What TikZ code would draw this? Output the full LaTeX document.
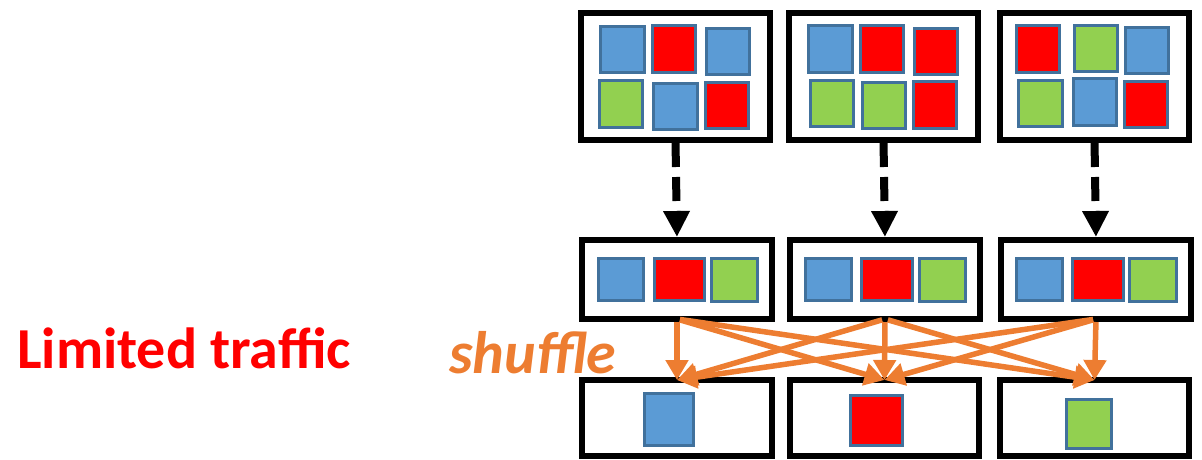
\documentclass[tikz,border=0pt]{standalone}
\usepackage{fontspec}
\setmainfont{Carlito}
\usetikzlibrary{arrows.meta}
\definecolor{tileblue}{HTML}{5B9BD5}
\definecolor{tilered}{HTML}{FF0000}
\definecolor{tilegreen}{HTML}{92D050}
\definecolor{tileedge}{HTML}{41719C}
\definecolor{shuffleorange}{HTML}{ED7D31}
\tikzset{
  box/.style={draw=black, line width=6pt, fill=white, inner sep=0pt, outer sep=0pt},
  tile/.style={draw=tileedge, line width=3pt},
  fetch/.style={line width=8pt, dash pattern=on 24pt off 10pt,
    shorten <=3pt, shorten >=3pt,
    -{Triangle[width=25pt,length=26pt]}},
  shufarrow/.style={draw=shuffleorange, line width=5.5pt, shorten <=3pt,
    -{Triangle[width=22pt,length=20pt]}, color=shuffleorange},
  label/.style={inner sep=0pt, anchor=base west, font=\fontsize{58}{62}\selectfont\bfseries}
}
% one coloured tile: colour, corner, opposite corner
\newcommand{\tileat}[5]{\draw[tile, fill=#1] (#2+1,#3+1) rectangle (#4-1,#5-1);}
\begin{document}
\begin{tikzpicture}[x=1pt, y=-1pt]
\useasboundingbox (0,0) rectangle (1202,459);

% partitions
\node[box, minimum width=189pt, minimum height=127pt] (t1) at (675.5,76.5) {};
\node[box, minimum width=189pt, minimum height=127pt] (t2) at (883.5,76.5) {};
\node[box, minimum width=189pt, minimum height=127pt] (t3) at (1094.5,76.5) {};

% locally combined blocks
\node[box, minimum width=190pt, minimum height=79pt] (m1) at (677,279.5) {};
\node[box, minimum width=190pt, minimum height=79pt] (m2) at (885,279.5) {};
\node[box, minimum width=190pt, minimum height=79pt] (m3) at (1096,279.5) {};

% reducers
\node[box, minimum width=190pt, minimum height=76pt] (b1) at (677,418) {};
\node[box, minimum width=189pt, minimum height=76pt] (b2) at (884.5,418) {};
\node[box, minimum width=189pt, minimum height=76pt] (b3) at (1094.5,418) {};

% tiles of the first partition
\tileat{tileblue}{599}{25}{645}{73}
\tileat{tilered}{651}{24}{696}{73}
\tileat{tileblue}{705}{27}{750}{75}
\tileat{tilegreen}{598}{79}{643}{128}
\tileat{tileblue}{652}{82}{698}{130}
\tileat{tilered}{704}{81}{749}{129}
% second partition
\tileat{tileblue}{807}{24}{853}{73}
\tileat{tilered}{859}{24}{904}{73}
\tileat{tilered}{913}{27}{958}{75}
\tileat{tilegreen}{809}{79}{854}{127}
\tileat{tilegreen}{861}{81}{906}{129}
\tileat{tilered}{912}{80}{957}{129}
% third partition
\tileat{tilered}{1015}{24}{1060}{73}
\tileat{tilegreen}{1073}{24}{1118}{72}
\tileat{tileblue}{1124}{26}{1169}{74}
\tileat{tilegreen}{1017}{79}{1063}{127}
\tileat{tileblue}{1072}{77}{1117}{126}
\tileat{tilered}{1123}{80}{1168}{128}

% combined tiles
\tileat{tileblue}{597}{257}{644}{301}
\tileat{tilered}{653}{257}{705}{301}
\tileat{tilegreen}{710}{257}{758}{302}
\tileat{tileblue}{804}{257}{852}{301}
\tileat{tilered}{860}{257}{913}{301}
\tileat{tilegreen}{918}{257}{966}{302}
\tileat{tileblue}{1015}{257}{1063}{301}
\tileat{tilered}{1071}{257}{1124}{301}
\tileat{tilegreen}{1128}{257}{1177}{302}

% reduced tiles
\tileat{tileblue}{643}{392}{694}{446}
\tileat{tilered}{849}{394}{903}{446}
\tileat{tilegreen}{1065}{398}{1112}{449}

% local combine
\draw[fetch] (t1.south) -- (m1.north);
\draw[fetch] (t2.south) -- (m2.north);
\draw[fetch] (t3.south) -- (m3.north);

% all-to-all shuffle
\foreach \s in {m1,m2,m3}
  \foreach \t in {b1,b2,b3}
    \draw[shufarrow] (\s.south) -- (\t.north);

% captions
\node[label, text=tilered] (traffic) at (17,368) {Limited traffic};
\node[label, text=shuffleorange, font=\fontsize{60}{64}\selectfont\bfseries\itshape] (shuf) at (449,373) {shuffle};
\end{tikzpicture}
\end{document}
